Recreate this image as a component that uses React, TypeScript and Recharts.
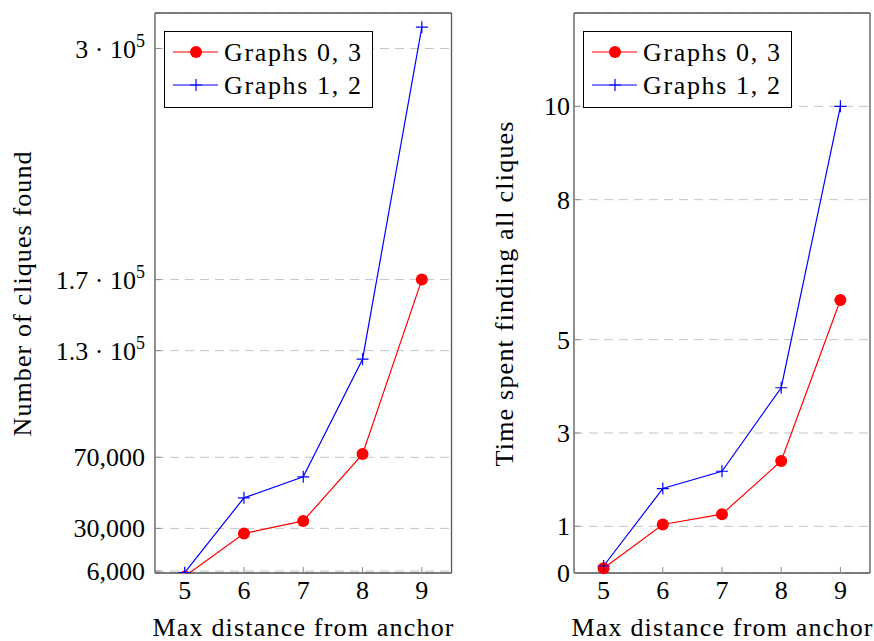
import { CartesianGrid, Legend, Line, LineChart, XAxis, YAxis } from 'recharts'

const distances = [5, 6, 7, 8, 9]

// left panel: number of cliques found
const cliquesG03 = [3000, 27100, 34200, 71800, 170000]
const cliquesG12 = [5100, 47200, 59000, 125200, 312000]
const cliqueTicks = [6000, 30000, 70000, 130000, 170000, 300000]
const cliqueTickLabels = ['6,000', '30,000', '70,000', '1.3 · 10^5', '1.7 · 10^5', '3 · 10^5']

// right panel: time spent
const timeG03 = [0.1, 1.04, 1.26, 2.4, 5.85]
const timeG12 = [0.15, 1.81, 2.18, 3.97, 10]
const timeTicks = [0, 1, 3, 5, 8, 10]
const timeTickLabels = ['0', '1', '3', '5', '8', '10']

const seriesNames = ['Graphs 0, 3', 'Graphs 1, 2']

const FONT = '"Liberation Serif", "Times New Roman", serif'
const RED = '#ff0000'
const BLUE = '#0000ff'
const FRAME = '#555'
const TICK = '#8a8a8a'

const cliqueRows = distances.map((d, i) => ({ d, g03: cliquesG03[i], g12: cliquesG12[i] }))
const timeRows = distances.map((d, i) => ({ d, g03: timeG03[i], g12: timeG12[i] }))

function YTick(props: any) {
  const { x, y, payload, ticks, labels } = props
  const idx = ticks.indexOf(payload.value)
  const label: string = idx >= 0 ? labels[idx] : String(payload.value)
  const [base, exp] = label.split('^')
  return (
    <text x={x} y={y} dy={9} textAnchor="end" fontFamily={FONT} fontSize={26} fill="#000">
      {base}
      {exp && (
        <tspan dy={-11} fontSize={18}>
          {exp}
        </tspan>
      )}
    </text>
  )
}

function PlusDot(props: any) {
  const { cx, cy } = props
  if (cx == null || cy == null) return null
  return (
    <path
      d={`M${cx - 6},${cy}H${cx + 6}M${cx},${cy - 6}V${cy + 6}`}
      stroke={BLUE}
      strokeWidth={1.2}
      fill="none"
    />
  )
}

function LegendBox() {
  return (
    <div style={{ border: '1.3px solid #000', background: '#fff', width: 209, height: 77, boxSizing: 'border-box' }}>
      <svg width={207} height={75} style={{ display: 'block' }}>
        <line x1={8} x2={53} y1={20} y2={20} stroke={RED} strokeWidth={1.2} />
        <circle cx={31} cy={20} r={6} fill={RED} />
        <text x={59} y={29} fontFamily={FONT} fontSize={26} textLength={137} lengthAdjust="spacing">
          {seriesNames[0]}
        </text>
        <line x1={8} x2={53} y1={53} y2={53} stroke={BLUE} strokeWidth={1.2} />
        <path d="M25,53H37M31,47V59" stroke={BLUE} strokeWidth={1.2} />
        <text x={59} y={62} fontFamily={FONT} fontSize={26} textLength={137} lengthAdjust="spacing">
          {seriesNames[1]}
        </text>
      </svg>
    </div>
  )
}

function XTitle({ cx, by, len, text }: any) {
  return (
    <text x={cx} y={by} textAnchor="middle" fontFamily={FONT} fontSize={26} fill="#000" textLength={len} lengthAdjust="spacing">
      {text}
    </text>
  )
}

function YTitle({ bx, cy, len, text }: any) {
  return (
    <text
      x={bx}
      y={cy}
      transform={`rotate(-90 ${bx} ${cy})`}
      textAnchor="middle"
      fontFamily={FONT}
      fontSize={26}
      fill="#000"
      textLength={len}
      lengthAdjust="spacing"
    >
      {text}
    </text>
  )
}

type PanelProps = {
  rows: { d: number; g03: number; g12: number }[]
  width: number
  yWidth: number
  right: number
  domain: [number, number]
  ticks: number[]
  labels: string[]
  tickGap: number
  yTitle: string
  yTitleX: number
  yTitleLen: number
  xTitleX: number
  legendLeft: number
  clipDot: boolean
}

function Panel(p: PanelProps) {
  return (
    // top axis and right axis take 1px each (zero-size axes are not drawn)
    <LineChart width={p.width} height={641} data={p.rows} margin={{ top: 12, right: p.right - 1, bottom: 0, left: 0 }}>
      <CartesianGrid vertical={false} stroke="#c4c4c4" strokeDasharray="9 6" />
      <XAxis
        dataKey="d"
        type="number"
        domain={[4.5, 9.5]}
        allowDataOverflow
        ticks={distances}
        height={68}
        axisLine={{ stroke: FRAME, strokeWidth: 1.3 }}
        tickLine={{ stroke: TICK }}
        tickSize={-6}
        tickMargin={14}
        tick={{ fontFamily: FONT, fontSize: 26, fill: '#000' }}
        label={<XTitle cx={p.xTitleX} by={636} len={301} text="Max distance from anchor" />}
      />
      <XAxis
        xAxisId="top"
        orientation="top"
        dataKey="d"
        type="number"
        domain={[4.5, 9.5]}
        allowDataOverflow
        ticks={distances}
        height={1}
        axisLine={{ stroke: FRAME, strokeWidth: 1.3 }}
        tickLine={{ stroke: TICK }}
        tickSize={-6}
        tick={false}
      />
      <YAxis
        type="number"
        domain={p.domain}
        allowDataOverflow
        ticks={p.ticks}
        width={p.yWidth}
        axisLine={{ stroke: FRAME, strokeWidth: 1.3 }}
        tickLine={{ stroke: TICK }}
        tickSize={-6}
        tickMargin={p.tickGap}
        tick={(t: any) => <YTick {...t} ticks={p.ticks} labels={p.labels} />}
        label={<YTitle bx={p.yTitleX} cy={294} len={p.yTitleLen} text={p.yTitle} />}
      />
      <YAxis
        yAxisId="right"
        orientation="right"
        type="number"
        domain={p.domain}
        allowDataOverflow
        ticks={p.ticks}
        width={1}
        axisLine={{ stroke: FRAME, strokeWidth: 1.3 }}
        tickLine={{ stroke: TICK }}
        tickSize={-6}
        tick={false}
      />
      <Legend
        layout="horizontal"
        verticalAlign="middle"
        align="center"
        content={() => <LegendBox />}
        wrapperStyle={{ left: p.legendLeft, top: 31, width: 209, height: 77 }}
      />
      <Line
        dataKey="g03"
        name={seriesNames[0]}
        stroke={RED}
        strokeWidth={1.2}
        dot={{ r: 6, fill: RED, stroke: RED, strokeWidth: 0, clipDot: p.clipDot }}
        isAnimationActive={false}
      />
      <Line
        dataKey="g12"
        name={seriesNames[1]}
        stroke={BLUE}
        strokeWidth={1.2}
        dot={(d: any) => <PlusDot key={d.index} {...d} />}
        isAnimationActive={false}
      />
    </LineChart>
  )
}

export default function App() {
  return (
    <div style={{ position: 'absolute', left: 0, top: 0, width: 874, height: 641, display: 'flex', background: '#fff', fontFamily: FONT }}>
      <Panel
        rows={cliqueRows}
        width={460}
        yWidth={155}
        right={8.5}
        domain={[4900, 320000]}
        ticks={cliqueTicks}
        labels={cliqueTickLabels}
        tickGap={16}
        yTitle="Number of cliques found"
        yTitleX={31}
        yTitleLen={285}
        xTitleX={303}
        legendLeft={164}
        clipDot
      />
      <Panel
        rows={timeRows}
        width={414}
        yWidth={114}
        right={4}
        domain={[0, 12]}
        ticks={timeTicks}
        labels={timeTickLabels}
        tickGap={10}
        yTitle="Time spent finding all cliques"
        yTitleX={53}
        yTitleLen={345}
        xTitleX={262}
        legendLeft={123}
        clipDot={false}
      />
    </div>
  )
}
